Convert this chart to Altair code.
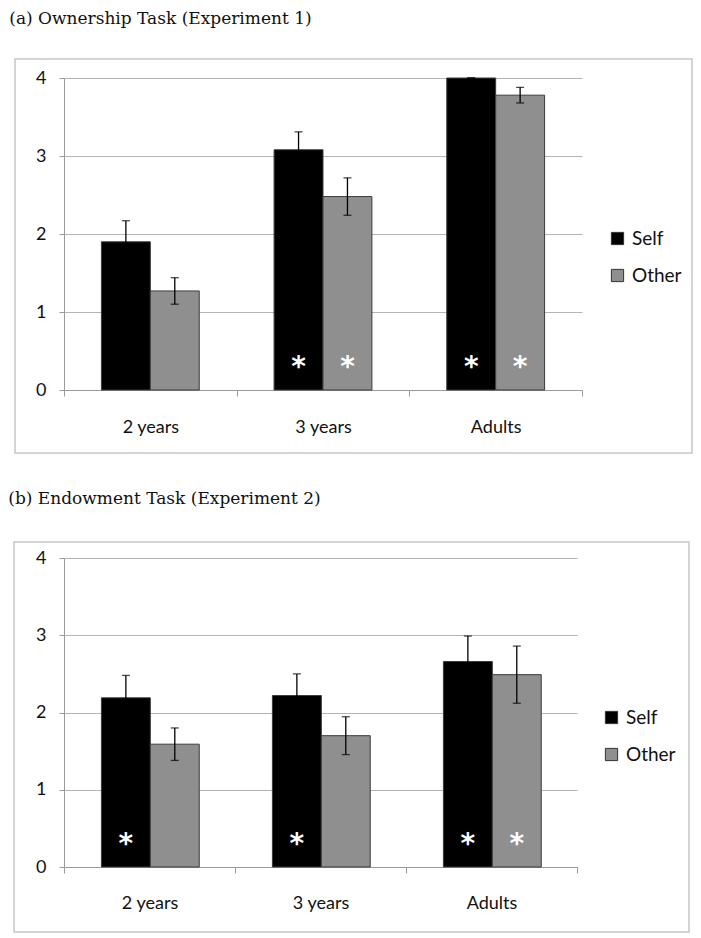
import altair as alt
import pandas as pd

groups = ["2 years", "3 years", "Adults"]
series = ["Self", "Other"]

own_self = [1.90, 3.08, 4.00]
own_self_err = [0.27, 0.23, 0.00]
own_other = [1.27, 2.48, 3.78]
own_other_err = [0.17, 0.24, 0.10]
own_self_star = [False, True, True]
own_other_star = [False, True, True]

end_self = [2.19, 2.22, 2.66]
end_self_err = [0.29, 0.28, 0.33]
end_other = [1.59, 1.70, 2.49]
end_other_err = [0.21, 0.245, 0.37]
end_self_star = [True, True, True]
end_other_star = [False, False, True]

y_ticks = [0, 1, 2, 3, 4]
star_level = 0.36

FONT = "Lato"
GRID = "#b4b4b4"
AXIS = "#9a9a9a"


def make_df(sv, se, ov, oe, ss, os_):
    rows = []
    for i, g in enumerate(groups):
        rows.append({"group": g, "series": "Self", "value": sv[i],
                     "lo": sv[i] - se[i], "hi": sv[i] + se[i],
                     "star": ss[i], "star_y": star_level})
        rows.append({"group": g, "series": "Other", "value": ov[i],
                     "lo": ov[i] - oe[i], "hi": ov[i] + oe[i],
                     "star": os_[i], "star_y": star_level})
    return pd.DataFrame(rows)


def panel(df, title, w, h, frame, legend_xy, title_offset, label_pad):
    x = alt.X("group:N", sort=groups, title=None,
              scale=alt.Scale(paddingInner=0, paddingOuter=0),
              axis=alt.Axis(labelAngle=0, tickBand="extent", grid=False,
                            domainColor=AXIS, tickColor=AXIS, tickSize=6,
                            labelFontSize=18, labelFont=FONT, labelColor="#111",
                            labelPadding=label_pad))
    xo = alt.XOffset("series:N", sort=series,
                     scale=alt.Scale(domain=series, paddingOuter=0.765, paddingInner=0))
    y_scale = alt.Scale(domain=[0, 4], nice=False)

    base = alt.Chart(df)
    bars = base.mark_bar(stroke="#3c3c3c", strokeWidth=1).encode(
        x=x, xOffset=xo,
        y=alt.Y("value:Q", scale=y_scale, title=None,
                axis=alt.Axis(values=y_ticks, format="d", grid=True, gridColor=GRID,
                              domainColor=AXIS, tickColor=AXIS, tickSize=5,
                              labelFontSize=18, labelFont=FONT, labelColor="#111",
                              labelPadding=13)),
        color=alt.Color("series:N", sort=series,
                        scale=alt.Scale(domain=series, range=["#000000", "#8f8f8f"]),
                        legend=alt.Legend(title=None, orient="none",
                                          legendX=legend_xy[0], legendY=legend_xy[1],
                                          symbolType="square", symbolSize=150,
                                          symbolStrokeColor="#333", symbolStrokeWidth=1,
                                          labelFontSize=19, labelFont=FONT, labelColor="#111",
                                          labelOffset=5, rowPadding=17, padding=0)),
    )
    stems = base.mark_rule(color="black", strokeWidth=1.3).encode(
        x=x, xOffset=xo, y=alt.Y("lo:Q", scale=y_scale), y2="hi:Q")
    caps_hi = base.mark_tick(color="black", size=8, thickness=1.3).encode(
        x=x, xOffset=xo, y=alt.Y("hi:Q", scale=y_scale))
    caps_lo = base.mark_tick(color="black", size=8, thickness=1.3).encode(
        x=x, xOffset=xo, y=alt.Y("lo:Q", scale=y_scale))
    stars = base.transform_filter("datum.star").mark_text(
        text="*", color="white", fontSize=28, fontWeight="bold", font="DejaVu Sans",
        baseline="middle", dy=6).encode(
        x=x, xOffset=xo, y=alt.Y("star_y:Q", scale=y_scale))
    box = alt.Chart(pd.DataFrame({"k": [0]})).mark_rect(
        fill=None, stroke="#c6c6c6", strokeWidth=1.5).encode(
        x=alt.value(frame[0]), x2=alt.value(frame[1]),
        y=alt.value(frame[2]), y2=alt.value(frame[3]))

    return alt.layer(box, bars, stems, caps_hi, caps_lo, stars).properties(
        width=w, height=h,
        title=alt.TitleParams(title, anchor="start", frame="bounds", dx=-5,
                              offset=title_offset,
                              font="DejaVu Serif", fontSize=17, fontWeight="normal",
                              color="#111"))


df_own = make_df(own_self, own_self_err, own_other, own_other_err, own_self_star, own_other_star)
df_end = make_df(end_self, end_self_err, end_other, end_other_err, end_self_star, end_other_star)

top = panel(df_own, "(a) Ownership Task (Experiment 1)", 518, 312,
            (-49, 628, -19, 375), (544, 151), 30, 22)
bottom = panel(df_end, "(b) Endowment Task (Experiment 2)", 513, 309,
               (-50, 625, -16, 374), (538, 150), 33, 21)

chart = alt.vconcat(top, bottom, spacing=36).resolve_legend(color="independent").properties(
    padding={"top": 2, "left": 0, "right": 0, "bottom": 0}
).configure_view(stroke=None)

chart.save("out.html", embed_options={"renderer": "svg", "actions": False})
